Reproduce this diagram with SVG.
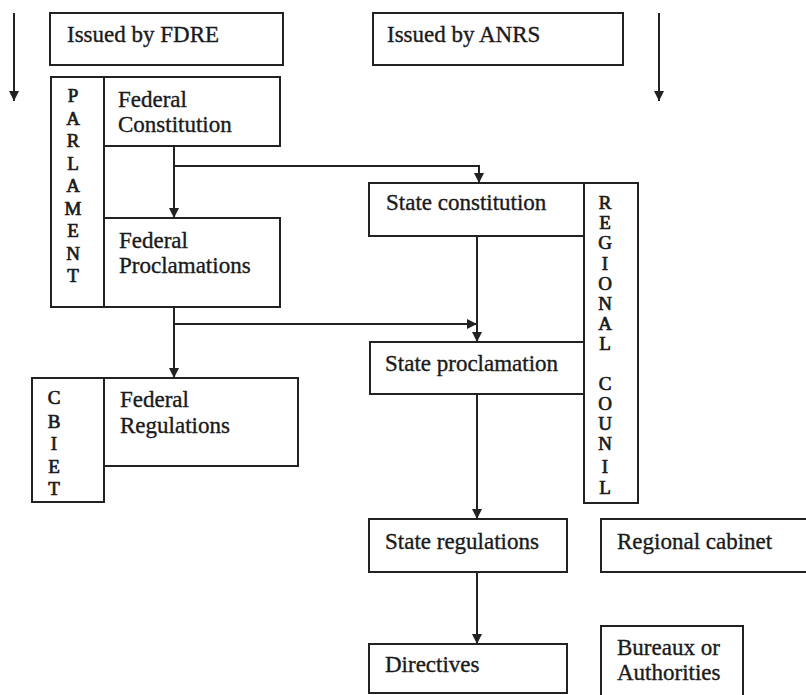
<svg xmlns="http://www.w3.org/2000/svg" width="806" height="695" viewBox="0 0 806 695">
<style>
.box{fill:#fff;stroke:#222;stroke-width:2}
.t{font-family:'Liberation Serif','DejaVu Serif',serif;font-size:23px;font-weight:400;fill:#1a1a1a;stroke:#1a1a1a;stroke-width:0.35}
.v{font-family:'Liberation Serif','DejaVu Serif',serif;font-size:19px;font-weight:400;fill:#1a1a1a;stroke:#1a1a1a;stroke-width:0.7;text-anchor:middle}
.c{fill:none;stroke:#222;stroke-width:2}
</style>
<defs>
<marker id="ah" markerWidth="10" markerHeight="10" refX="10" refY="5" orient="auto" markerUnits="userSpaceOnUse">
<path d="M0,0 L10,5 L0,10 Z" fill="#222"/>
</marker>
</defs>
<rect width="806" height="695" fill="#fff"/>
<g id="fdre"><rect class="box" x="50" y="13" width="233" height="52"/><text class="t" x="67" y="42">Issued by FDRE</text></g>
<g id="anrs"><rect class="box" x="373" y="13" width="250" height="52"/><text class="t" x="387" y="42">Issued by ANRS</text></g>
<g id="parlament"><rect class="box" x="51" y="77" width="53" height="230"/>
<text class="v"><tspan x="73" y="102">P</tspan><tspan x="73" y="124.5">A</tspan><tspan x="73" y="147">R</tspan><tspan x="73" y="169.5">L</tspan><tspan x="73" y="192">A</tspan><tspan x="73" y="214.5">M</tspan><tspan x="73" y="237">E</tspan><tspan x="73" y="259.5">N</tspan><tspan x="73" y="282">T</tspan></text></g>
<g id="fedconst"><rect class="box" x="104" y="77" width="176" height="69"/><text class="t"><tspan x="118" y="107">Federal</tspan><tspan x="118" y="132">Constitution</tspan></text></g>
<g id="fedproc"><rect class="box" x="104" y="218" width="176" height="89"/><text class="t"><tspan x="119" y="248">Federal</tspan><tspan x="119" y="273">Proclamations</tspan></text></g>
<g id="cbiet"><rect class="box" x="32" y="378" width="72" height="124"/>
<text class="v"><tspan x="54" y="404">C</tspan><tspan x="54" y="428">B</tspan><tspan x="54" y="450">I</tspan><tspan x="54" y="473">E</tspan><tspan x="54" y="495">T</tspan></text></g>
<g id="fedreg"><rect class="box" x="104" y="378" width="194" height="88"/><text class="t"><tspan x="120" y="407">Federal</tspan><tspan x="120" y="433">Regulations</tspan></text></g>
<g id="council"><rect class="box" x="584" y="183" width="54" height="320"/>
<text class="v"><tspan x="605" y="209">R</tspan><tspan x="605" y="229">E</tspan><tspan x="605" y="249">G</tspan><tspan x="605" y="270">I</tspan><tspan x="605" y="290">O</tspan><tspan x="605" y="310">N</tspan><tspan x="605" y="330">A</tspan><tspan x="605" y="350">L</tspan><tspan x="605" y="390">C</tspan><tspan x="605" y="410">O</tspan><tspan x="605" y="430">U</tspan><tspan x="605" y="450">N</tspan><tspan x="605" y="473">I</tspan><tspan x="605" y="494">L</tspan></text></g>
<g id="stateconst"><rect class="box" x="369" y="183" width="215" height="53"/><text class="t" x="386" y="210">State constitution</text></g>
<g id="stateproc"><rect class="box" x="370" y="342" width="214" height="52"/><text class="t" x="385" y="371">State proclamation</text></g>
<g id="statereg"><rect class="box" x="369" y="519" width="198" height="53"/><text class="t" x="385" y="549">State regulations</text></g>
<g id="cabinet"><rect class="box" x="601" y="519" width="215" height="53"/><text class="t" x="617" y="549">Regional cabinet</text></g>
<g id="directives"><rect class="box" x="369" y="644" width="198" height="49"/><text class="t" x="385" y="672">Directives</text></g>
<g id="bureaux"><rect class="box" x="601" y="626" width="142" height="80"/><text class="t"><tspan x="617" y="655">Bureaux or</tspan><tspan x="617" y="680">Authorities</tspan></text></g>
<g id="connectors">
<line class="c" x1="14" y1="13" x2="14" y2="101" marker-end="url(#ah)"/>
<line class="c" x1="659" y1="13" x2="659" y2="101" marker-end="url(#ah)"/>
<line class="c" x1="174" y1="146" x2="174" y2="218" marker-end="url(#ah)"/>
<polyline class="c" points="174,166 479,166 479,183" marker-end="url(#ah)"/>
<line class="c" x1="174" y1="307" x2="174" y2="378" marker-end="url(#ah)"/>
<line class="c" x1="174" y1="324" x2="477" y2="324" marker-end="url(#ah)"/>
<line class="c" x1="477" y1="236" x2="477" y2="342" marker-end="url(#ah)"/>
<line class="c" x1="477" y1="394" x2="477" y2="519" marker-end="url(#ah)"/>
<line class="c" x1="477" y1="572" x2="477" y2="644" marker-end="url(#ah)"/>
</g>
</svg>
